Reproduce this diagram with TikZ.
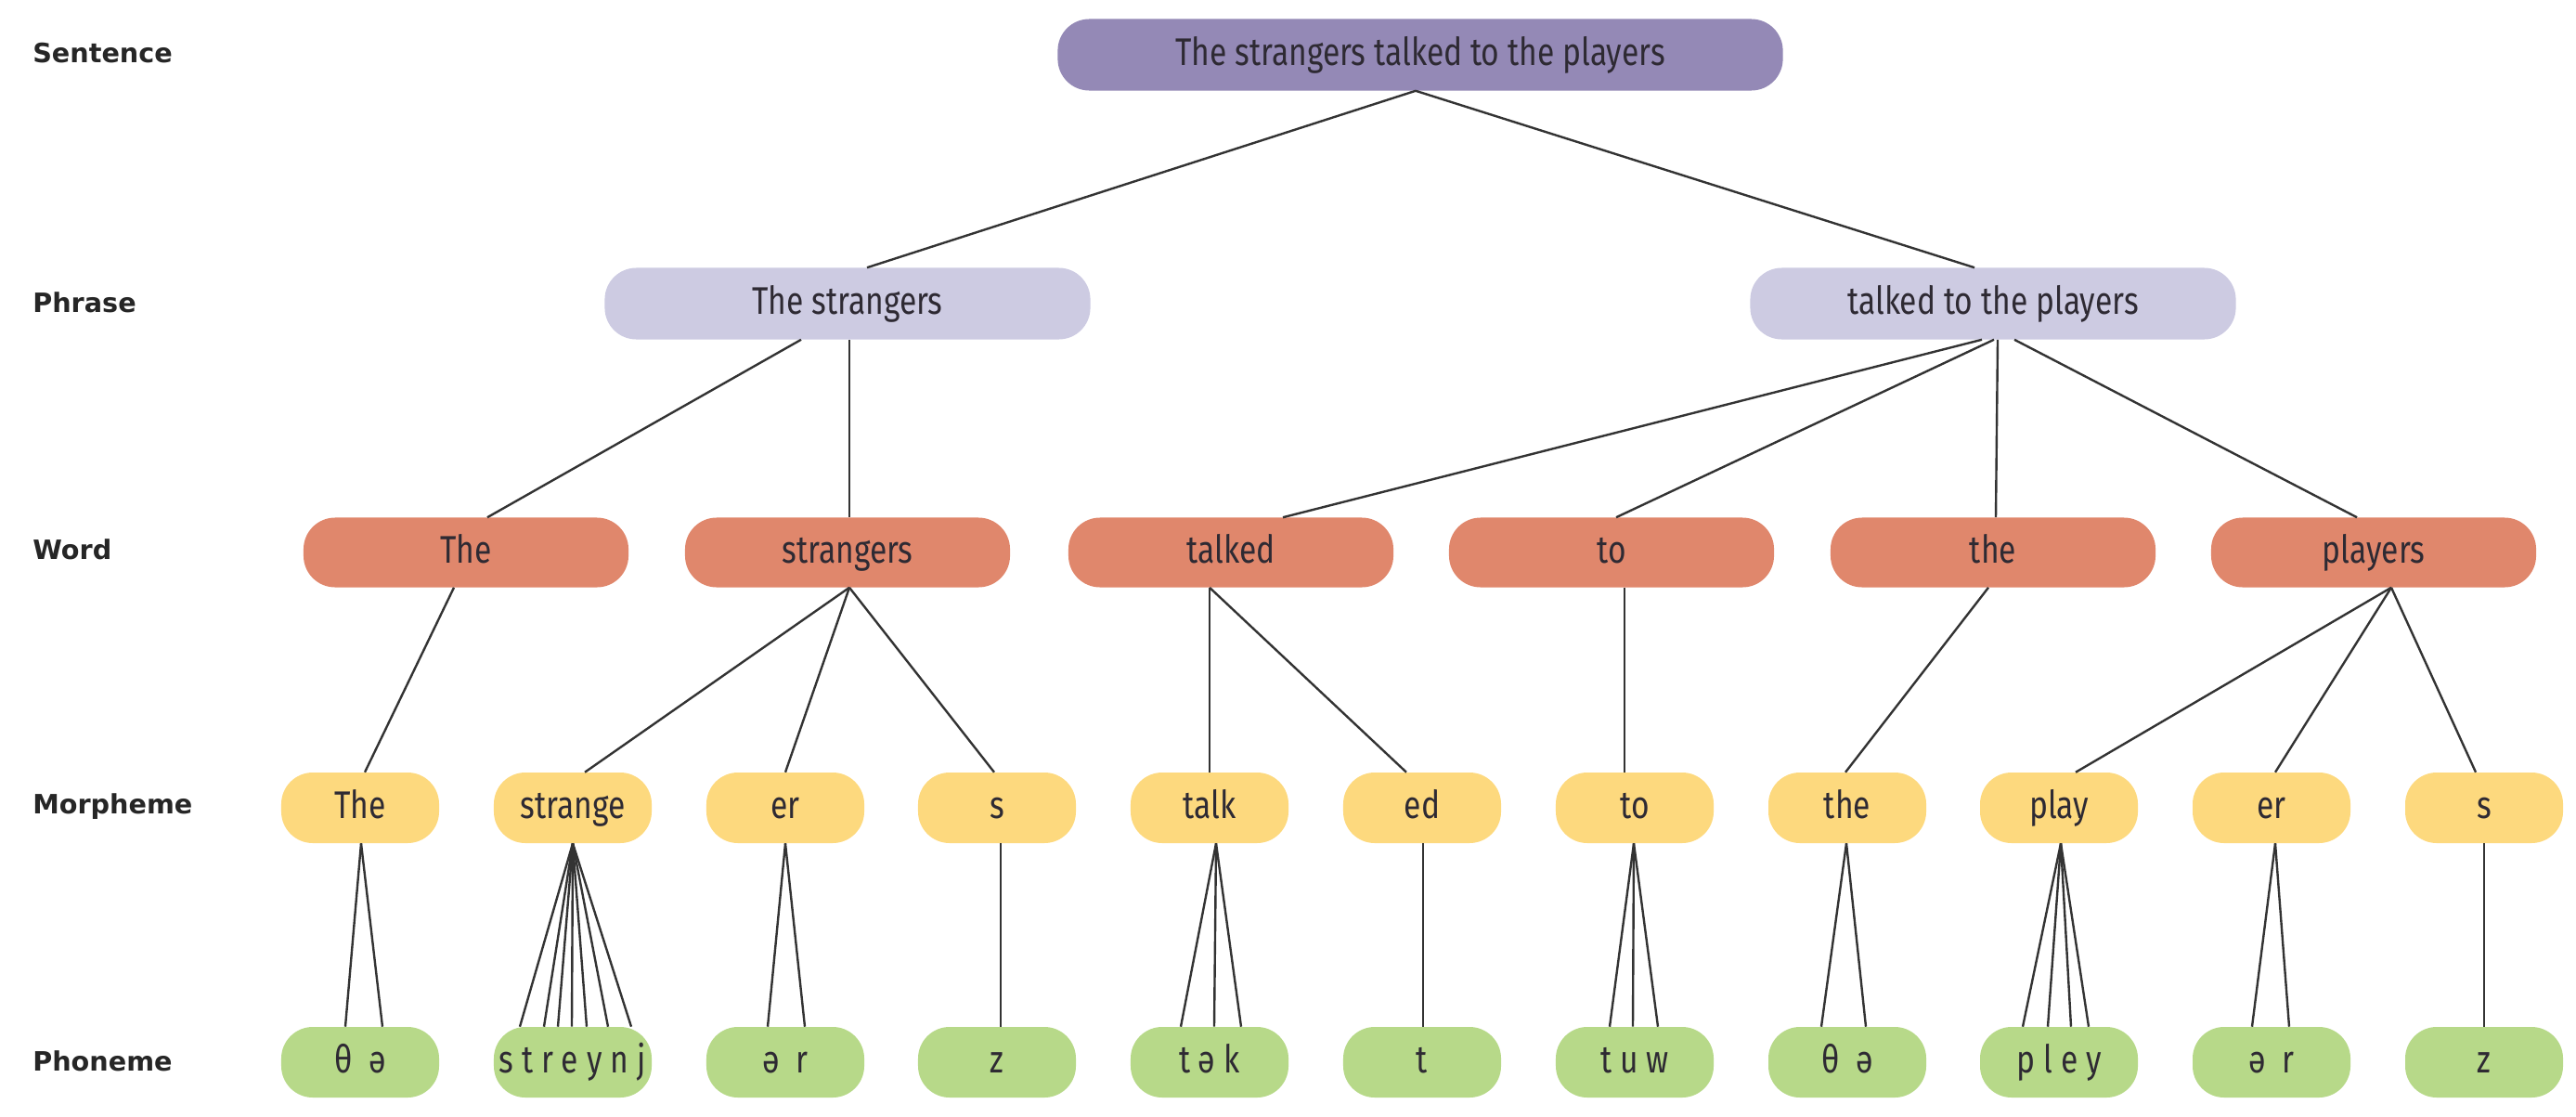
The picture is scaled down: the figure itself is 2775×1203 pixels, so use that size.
\documentclass[tikz,border=0pt]{standalone}
\usepackage{fontspec}
\setmainfont{Fira Sans}
\newfontfamily\nodefont[FakeStretch=0.81]{Fira Sans}
\newfontfamily\phonfont[FakeStretch=0.81,LetterSpace=22]{Fira Sans}
\newfontfamily\labfont{DejaVu Sans}
\usetikzlibrary{calc}
\definecolor{cSent}{HTML}{9489B6}
\definecolor{cPhr}{HTML}{CDCBE2}
\definecolor{cWord}{HTML}{E0876C}
\definecolor{cMorph}{HTML}{FDD97E}
\definecolor{cPhon}{HTML}{B7D989}
\definecolor{cLine}{HTML}{333333}
\definecolor{cText}{HTML}{2E2A33}
\newcommand\lk[4]{\draw[link] ($(#1.south)+(#2,0)$) -- ($(#3.north)+(#4,0)$);}
\tikzset{
  box/.style={rounded corners=0.85cm, inner sep=0pt, text=cText,
    text height=21pt, text depth=5pt,
    font=\nodefont\fontsize{29.5}{34}\selectfont},
  sentbox/.style={box, fill=cSent, minimum width=19.525cm, minimum height=1.925cm},
  phrbox/.style={box, fill=cPhr, minimum width=13.075cm, minimum height=1.925cm},
  wordbox/.style={box, fill=cWord, minimum width=8.75cm, minimum height=1.875cm},
  morphbox/.style={box, fill=cMorph, minimum width=4.25cm, minimum height=1.9cm},
  phonbox/.style={box, fill=cPhon, minimum width=4.25cm, minimum height=1.9cm,
    font=\phonfont\fontsize{29.5}{34}\selectfont},
  rowlabel/.style={anchor=west, inner sep=0pt, text=black!85,
    font=\labfont\bfseries\fontsize{20.4}{24}\selectfont},
  link/.style={draw=cLine, line width=1.7pt}
}
\begin{document}
\begin{tikzpicture}[x=0.025cm,y=-0.025cm]
\useasboundingbox (0,0) rectangle (2775,1203);
% row labels
\node[rowlabel] (lSent) at (35,57) {Sentence};
\node[rowlabel] (lPhr) at (35,326) {Phrase};
\node[rowlabel] (lWord) at (35,592) {Word};
\node[rowlabel] (lMorph) at (35,869) {Morpheme};
\node[rowlabel] (lPhon) at (35,1143) {Phoneme};
% sentence
\node[sentbox] (s) at (1530,59) {The strangers talked to the players};
% phrases
\node[phrbox] (p1) at (913,327) {The strangers};
\node[phrbox] (p2) at (2147,327) {talked to the players};
% words
\node[wordbox] (w1) at (502,595) {The};
\node[wordbox] (w2) at (913,595) {strangers};
\node[wordbox] (w3) at (1326,595) {talked};
\node[wordbox] (w4) at (1736,595) {to};
\node[wordbox] (w5) at (2147,595) {the};
\node[wordbox] (w6) at (2557,595) {players};
% morphemes
\node[morphbox] (m1) at (388,870) {The};
\node[morphbox] (m2) at (617,870) {strange};
\node[morphbox] (m3) at (846,870) {er};
\node[morphbox] (m4) at (1074,870) {s};
\node[morphbox] (m5) at (1303,870) {talk};
\node[morphbox] (m6) at (1532,870) {ed};
\node[morphbox] (m7) at (1761,870) {to};
\node[morphbox] (m8) at (1990,870) {the};
\node[morphbox] (m9) at (2218,870) {play};
\node[morphbox] (m10) at (2447,870) {er};
\node[morphbox] (m11) at (2676,870) {s};
% phonemes
\node[phonbox] (f1) at (388,1144) {θ ə};
\node[phonbox] (f2) at (617,1144) {streynj};
\node[phonbox] (f3) at (846,1144) {ə r};
\node[phonbox] (f4) at (1074,1144) {z};
\node[phonbox] (f5) at (1303,1144) {tək};
\node[phonbox] (f6) at (1532,1144) {t};
\node[phonbox] (f7) at (1761,1144) {tuw};
\node[phonbox] (f8) at (1990,1144) {θ ə};
\node[phonbox] (f9) at (2218,1144) {pley};
\node[phonbox] (f10) at (2447,1144) {ə r};
\node[phonbox] (f11) at (2676,1144) {z};
% sentence -> phrase
\lk{s}{-5}{p1}{21}
\lk{s}{-5}{p2}{-20}
% phrase -> word
\lk{p1}{-50}{w1}{23}
\lk{p1}{2}{w2}{2}
\lk{p2}{-12}{w3}{56}
\lk{p2}{1}{w4}{5}
\lk{p2}{5}{w5}{3}
\lk{p2}{23}{w6}{-18}
% word -> morpheme
\lk{w1}{-13}{m1}{5}
\lk{w2}{2}{m2}{13}
\lk{w2}{2}{m3}{0}
\lk{w2}{2}{m4}{-3}
\lk{w3}{-23}{m5}{0}
\lk{w3}{-23}{m6}{-17}
\lk{w4}{14}{m7}{-11}
\lk{w5}{-5}{m8}{-2}
\lk{w6}{19}{m9}{18}
\lk{w6}{19}{m10}{4}
\lk{w6}{19}{m11}{-9}
% morpheme -> phoneme
\foreach \o in {-16,24} {\lk{m1}{1}{f1}{\o}}
\foreach \o in {-57,-31,-16,-1,15,38,63} {\lk{m2}{0}{f2}{\o}}
\foreach \o in {-19,21} {\lk{m3}{0}{f3}{\o}}
\lk{m4}{4}{f4}{4}
\foreach \o in {-31,5,34} {\lk{m5}{7}{f5}{\o}}
\lk{m6}{1}{f6}{1}
\foreach \o in {-27,-2,25} {\lk{m7}{-1}{f7}{\o}}
\foreach \o in {-28,20} {\lk{m8}{-1}{f8}{\o}}
\foreach \o in {-39,-12,13,32} {\lk{m9}{2}{f9}{\o}}
\foreach \o in {-21,19} {\lk{m10}{4}{f10}{\o}}
\lk{m11}{0}{f11}{0}
\end{tikzpicture}
\end{document}
